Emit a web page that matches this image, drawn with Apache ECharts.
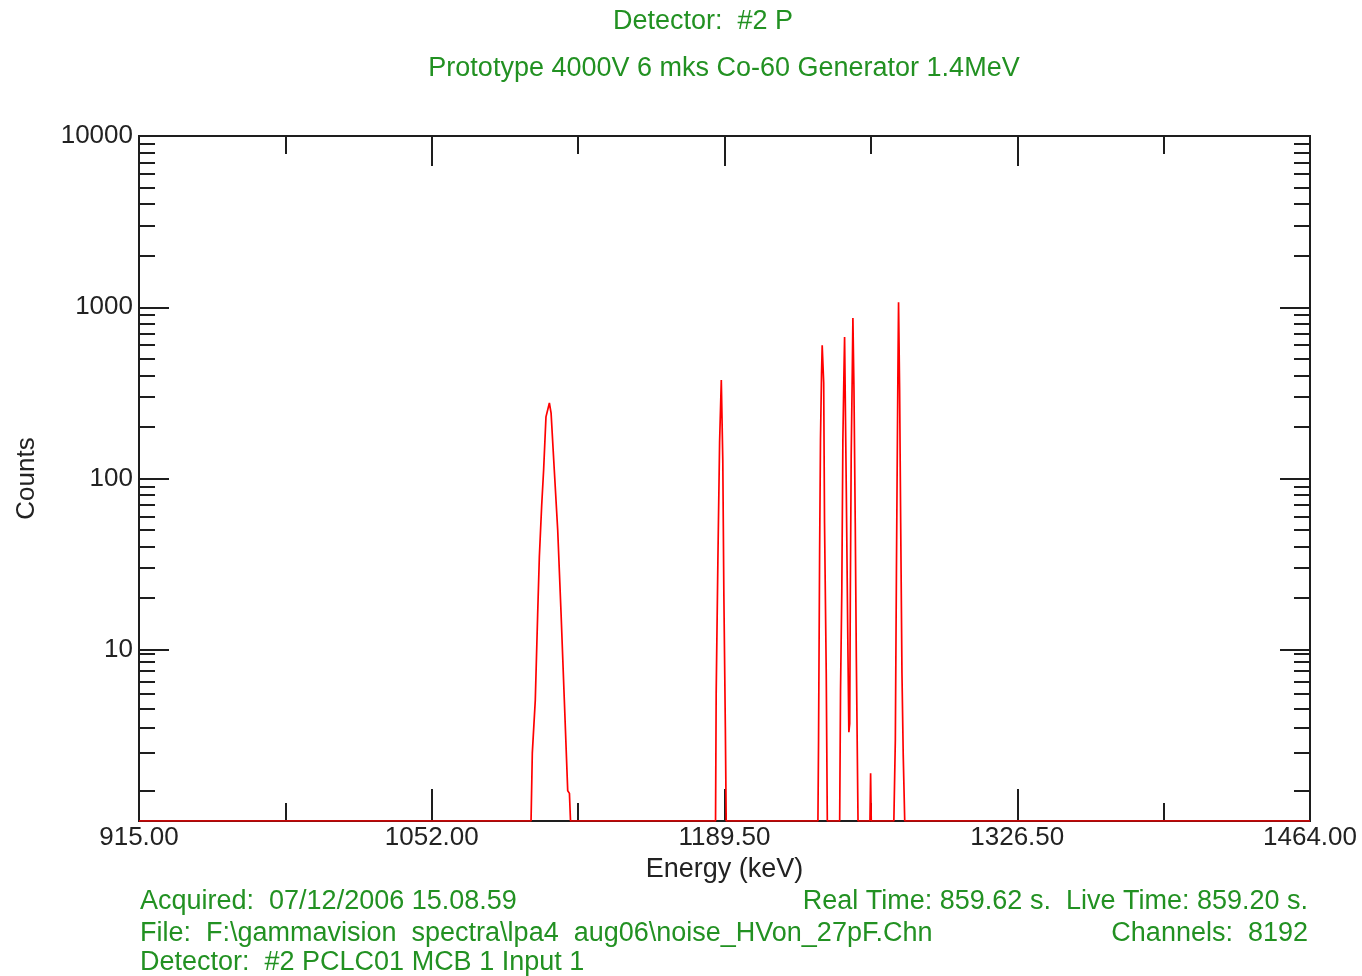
<!DOCTYPE html>
<html lang="en">
<head>
    <meta charset="UTF-8">
    <title>Detector #2 P spectrum</title>
    <script type="text/javascript" src="https://cdn.jsdelivr.net/npm/echarts@6/dist/echarts.min.js"></script>
    <style>
        html, body { margin: 0; padding: 0; background: #fff; }
        #chart { width: 1362px; height: 976px; }
    </style>
</head>
<body>
<div id="chart"></div>
<script type="text/javascript">
    // spectrum (energy in keV, counts; 0 = empty channel)
    var energyKeV = [915,
        1098.8, 1099.4, 1100.8, 1101.9, 1102.7, 1103.8, 1104.7, 1105.8, 1107.4, 1108.2, 1109.7, 1111.3, 1112.9, 1114.4, 1116.0, 1116.8, 1117.3,
        1185.3, 1185.6, 1186.4, 1187.2, 1188.0, 1188.7, 1189.2, 1189.9, 1190.3,
        1233.3, 1233.6, 1234.1, 1234.5, 1235.0, 1235.3, 1236.0, 1236.4, 1237.2, 1237.7,
        1243.5, 1243.9, 1244.5, 1245.0, 1245.5, 1245.8, 1246.6, 1247.4, 1247.8, 1248.2, 1248.5, 1248.9, 1249.4, 1249.7, 1250.2, 1250.8, 1251.3, 1252.1,
        1257.7, 1258.0, 1258.3,
        1268.9, 1269.6, 1270.1, 1270.5, 1270.8, 1271.1, 1271.6, 1272.1, 1272.7, 1273.3, 1274.0,
        1464];
    var counts = [0,
        0, 2.5, 5.1, 16, 35, 70, 112, 229, 276, 241, 112, 50, 16, 5.1, 1.5, 1.45, 0,
        0, 5.6, 33, 162, 376, 128, 21, 3.5, 0,
        0, 3, 38, 168, 414, 600, 362, 55, 7.3, 0,
        0, 5.8, 22, 168, 414, 670, 86, 9.1, 3.3, 3.7, 22, 135, 414, 865, 330, 55, 9.1, 0,
        0, 1.9, 0,
        0, 3, 28, 135, 414, 1070, 330, 55, 7.3, 2.4, 0,
        0];

    // axis ticks
    var xMin = 915, xMax = 1464;
    var xMajor = [915, 1052.25, 1189.5, 1326.75, 1464];
    var xMajorLabels = ['915.00', '1052.00', '1189.50', '1326.50', '1464.00'];
    var xMinor = [983.625, 1120.875, 1258.125, 1395.375];
    var yMin = 1, yMax = 10000;
    var yMajor = [10, 100, 1000, 10000];
    var yMinorBottom = [1.5, 2.5, 3.5, 4.5, 5.5, 6.5, 7.5, 8.5, 9.5];
    var yMinorMult = [2, 3, 4, 5, 6, 7, 8, 9];

    var yMinor = yMinorBottom.slice();
    [10, 100, 1000].forEach(function (d) {
        yMinorMult.forEach(function (m) { yMinor.push(m * d); });
    });

    var green = '#229122';
    var ink = '#1e1e1e';
    var font = 'Liberation Sans, Arial, sans-serif';

    var seriesData = energyKeV.map(function (e, i) {
        return [e, Math.max(counts[i], yMin)];
    });

    function xAx(pos, ticks, len, withLabels) {
        return {
            type: 'value', position: pos, min: xMin, max: xMax,
            axisLine: { show: true, lineStyle: { color: ink, width: 2 } },
            axisTick: { show: true, inside: true, length: len, customValues: ticks,
                lineStyle: { color: ink, width: 2 } },
            axisLabel: withLabels ? {
                show: true, customValues: xMajor, margin: 4,
                color: '#222', fontSize: 26, fontFamily: font,
                formatter: function (v) {
                    var k = 0;
                    for (var i = 1; i < xMajor.length; i++) {
                        if (Math.abs(xMajor[i] - v) < Math.abs(xMajor[k] - v)) k = i;
                    }
                    return xMajorLabels[k];
                }
            } : { show: false },
            splitLine: { show: false }
        };
    }

    function yAx(pos, ticks, len, withLabels) {
        return {
            type: 'log', logBase: 10, position: pos, min: yMin, max: yMax,
            axisLine: { show: true, lineStyle: { color: ink, width: 2 } },
            axisTick: { show: true, inside: true, length: len, customValues: ticks,
                lineStyle: { color: ink, width: 2 } },
            axisLabel: withLabels ? {
                show: true, customValues: yMajor, margin: 6,
                color: '#222', fontSize: 26, fontFamily: font,
                formatter: function (v) { return String(Math.round(v)); }
            } : { show: false },
            splitLine: { show: false }
        };
    }

    var xAxes = [xAx('bottom', xMajor, 32, true), xAx('bottom', xMinor, 18, false),
        xAx('top', xMajor, 30, false), xAx('top', xMinor, 18, false)];
    xAxes[0].name = 'Energy (keV)';
    xAxes[0].nameLocation = 'middle';
    xAxes[0].nameGap = 35;
    xAxes[0].nameTextStyle = { color: '#222', fontSize: 27, fontFamily: font };

    var yAxes = [yAx('left', yMajor, 30, true), yAx('left', yMinor, 16, false),
        yAx('right', yMajor, 30, false), yAx('right', yMinor, 16, false)];
    yAxes[0].name = 'Counts';
    yAxes[0].nameLocation = 'middle';
    yAxes[0].nameGap = 99;
    yAxes[0].nameTextStyle = { color: '#222', fontSize: 26, fontFamily: font };

    function txt(s, x, y, align) {
        return { type: 'text', x: x, y: y, silent: true,
            style: { text: s, fill: green, font: '27px ' + font, textAlign: align || 'left', textVerticalAlign: 'middle' } };
    }

    var mychart = echarts.init(document.getElementById('chart'), null, { renderer: 'canvas' });
    var option = {
        animation: false,
        backgroundColor: '#fff',
        grid: { left: 139, right: 52, top: 136, bottom: 155, containLabel: false },
        xAxis: xAxes,
        yAxis: yAxes,
        graphic: [
            txt('Detector:  #2 P', 703, 22, 'center'),
            txt('Prototype 4000V 6 mks Co-60 Generator 1.4MeV', 724, 69, 'center'),
            txt('Acquired:  07/12/2006 15.08.59', 140, 902),
            txt('File:  F:\\gammavision  spectra\\lpa4  aug06\\noise_HVon_27pF.Chn', 140, 934),
            txt('Detector:  #2 PCLC01 MCB 1 Input 1', 140, 963),
            txt('Real Time: 859.62 s.  Live Time: 859.20 s.', 1308, 902, 'right'),
            txt('Channels:  8192', 1308, 934, 'right')
        ],
        series: [{
            name: 'Counts', type: 'line', xAxisIndex: 0, yAxisIndex: 0,
            data: seriesData, symbol: 'none',
            lineStyle: { color: '#ff0000', width: 1.7 },
            z: 5
        }]
    };
    mychart.setOption(option);
</script>
</body>
</html>
